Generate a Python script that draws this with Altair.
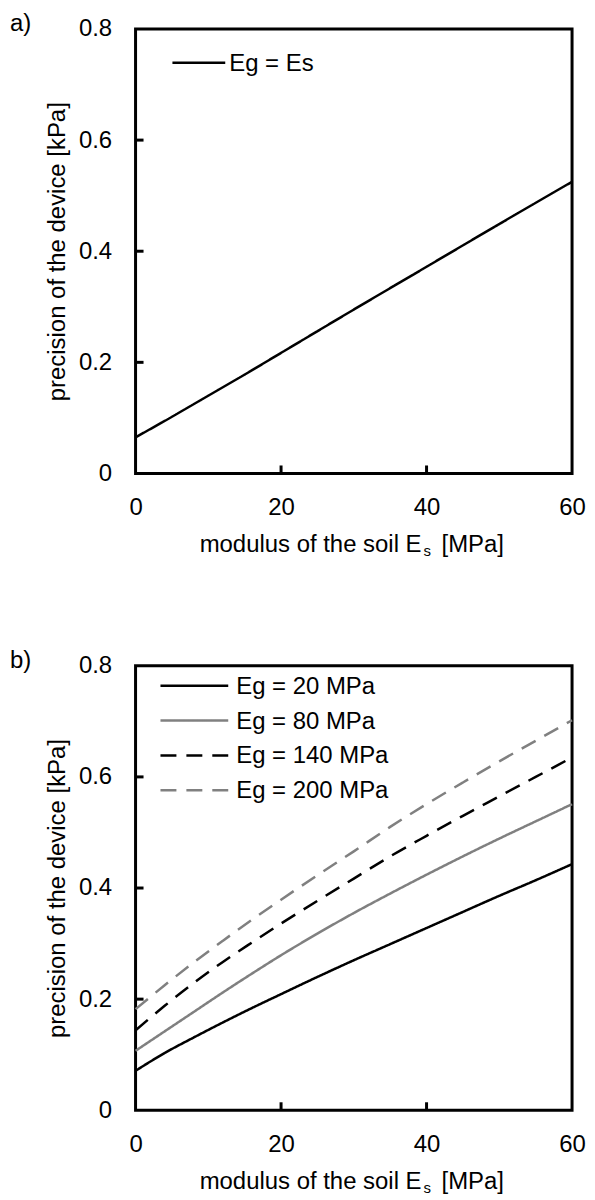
import altair as alt
import pandas as pd

# ---------------- data ----------------
# panel a): Eg = Es
a_x = [0, 5, 10, 15, 20, 30, 40, 50, 60]
a_y = [0.065, 0.102, 0.140, 0.178, 0.217, 0.295, 0.372, 0.449, 0.525]
a_labels = ["Eg = Es"]

# panel b): several Eg
b_x = [0, 4, 8, 12, 16, 20, 25, 30, 35, 40, 45, 50, 55, 60]
b_eg20 = [0.071, 0.103, 0.131, 0.158, 0.184, 0.209, 0.240, 0.270, 0.299, 0.328, 0.357, 0.386, 0.414, 0.443]
b_eg80 = [0.107, 0.142, 0.177, 0.212, 0.246, 0.279, 0.318, 0.355, 0.390, 0.424, 0.457, 0.489, 0.520, 0.551]
b_eg140 = [0.144, 0.188, 0.229, 0.267, 0.302, 0.336, 0.377, 0.417, 0.457, 0.494, 0.530, 0.565, 0.600, 0.635]
b_eg200 = [0.182, 0.225, 0.266, 0.305, 0.343, 0.379, 0.423, 0.466, 0.510, 0.551, 0.590, 0.628, 0.665, 0.702]
b_labels = ["Eg = 20 MPa", "Eg = 80 MPa", "Eg = 140 MPa", "Eg = 200 MPa"]

x_label_values = [0, 20, 40, 60]
y_label_values = [0, 0.2, 0.4, 0.6, 0.8]
x_inner_ticks = [20, 40]
y_inner_ticks = [0.2, 0.4, 0.6]

# ---------------- styles ----------------
FONT = "Liberation Sans, Arial, Helvetica, sans-serif"
FS = 24
W, H = 438, 446
a_colors = ["#000000"]
a_dashes = [[1, 0]]
b_colors = ["#000000", "#808080", "#000000", "#808080"]
b_dashes = [[1, 0], [1, 0], [16, 10], [16, 10]]

x_scale = alt.Scale(domain=[0, 60], nice=False, zero=False)
y_scale = alt.Scale(domain=[0, 0.8], nice=False, zero=False)

x_axis = alt.Axis(values=x_label_values, format="d", title=None, ticks=False, tickSize=0,
                  domain=False, grid=False, labelPadding=22, labelFontSize=FS,
                  labelFlush=False, labelOverlap=False,
                  labelFont=FONT, labelColor="black")
y_axis = alt.Axis(values=y_label_values,
                  labelExpr="datum.value == 0 ? '0' : format(datum.value, '.1f')",
                  title="precision of the device [kPa]", ticks=False, tickSize=0,
                  domain=False, grid=False, labelPadding=24, titlePadding=9,
                  labelFlush=False, labelOverlap=False,
                  labelFontSize=FS, titleFontSize=FS, titleFontWeight="normal",
                  labelFont=FONT, titleFont=FONT, labelColor="black", titleColor="black")


def panel(xs, series_list, labels, colors, dashes, letter, leg_x1, leg_x2, leg_tx, leg_y0, leg_dy):
    layers = []
    for lab, ys, col, dash in zip(labels, series_list, colors, dashes):
        df = pd.DataFrame({"x": xs, "y": ys, "series": lab})
        layers.append(
            alt.Chart(df).mark_line(strokeWidth=2.5, interpolate="monotone", color=col,
                                    strokeDash=dash).encode(
                x=alt.X("x:Q", scale=x_scale, axis=x_axis),
                y=alt.Y("y:Q", scale=y_scale, axis=y_axis),
            )
        )

    layers.append(
        alt.Chart(pd.DataFrame({"v": x_inner_ticks})).mark_rule(strokeWidth=3, color="black").encode(
            x=alt.X("v:Q", scale=x_scale, axis=x_axis),
            y=alt.value(H), y2=alt.value(H - 8),
        )
    )
    layers.append(
        alt.Chart(pd.DataFrame({"v": y_inner_ticks})).mark_rule(strokeWidth=3, color="black").encode(
            y=alt.Y("v:Q", scale=y_scale, axis=y_axis),
            x=alt.value(0), x2=alt.value(8),
        )
    )

    # legend (drawn manually)
    for i, (lab, col, dash) in enumerate(zip(labels, colors, dashes)):
        yy = leg_y0 + i * leg_dy
        layers.append(
            alt.Chart(alt.Data(values=[{"k": lab}])).mark_rule(strokeWidth=2.5, color=col,
                                                               strokeDash=dash).encode(
                x=alt.value(leg_x1), x2=alt.value(leg_x2), y=alt.value(yy),
            )
        )
        layers.append(
            alt.Chart(alt.Data(values=[{"k": lab}])).mark_text(
                text=lab, align="left", baseline="middle", font=FONT, fontSize=FS, color="black"
            ).encode(x=alt.value(leg_tx), y=alt.value(yy + 1))
        )

    # x-axis title with subscript
    one = alt.Data(values=[{"k": 1}])
    cx = W / 2 - 2
    layers.append(alt.Chart(one).mark_text(text="modulus of the soil E", align="right",
                                           baseline="alphabetic", font=FONT, fontSize=FS,
                                           color="black").encode(x=alt.value(cx + 70), y=alt.value(H + 79)))
    layers.append(alt.Chart(one).mark_text(text="s", align="left", baseline="alphabetic",
                                           font=FONT, fontSize=15, color="black").encode(
        x=alt.value(cx + 72), y=alt.value(H + 83)))
    layers.append(alt.Chart(one).mark_text(text="[MPa]", align="left", baseline="alphabetic",
                                           font=FONT, fontSize=FS, color="black").encode(
        x=alt.value(cx + 90), y=alt.value(H + 79)))
    # panel letter
    layers.append(alt.Chart(one).mark_text(text=letter, align="left", baseline="alphabetic",
                                           font=FONT, fontSize=FS, color="black").encode(
        x=alt.value(-126), y=alt.value(2)))

    return alt.layer(*layers).properties(width=W, height=H)


pa = panel(a_x, [a_y], a_labels, a_colors, a_dashes, "a)", 37, 90, 94, 34, 35)
pb = panel(b_x, [b_eg20, b_eg80, b_eg140, b_eg200], b_labels, b_colors, b_dashes, "b)",
           25, 93, 101, 20, 35)

chart = (
    alt.vconcat(pa, pb, spacing=86)
    .properties(padding={"left": 0, "top": 0, "right": 0, "bottom": 0})
    .configure(font=FONT, background="white")
    .configure_view(stroke="black", strokeWidth=3)
)

chart.save("out.html", embed_options={"renderer": "svg", "actions": False})
